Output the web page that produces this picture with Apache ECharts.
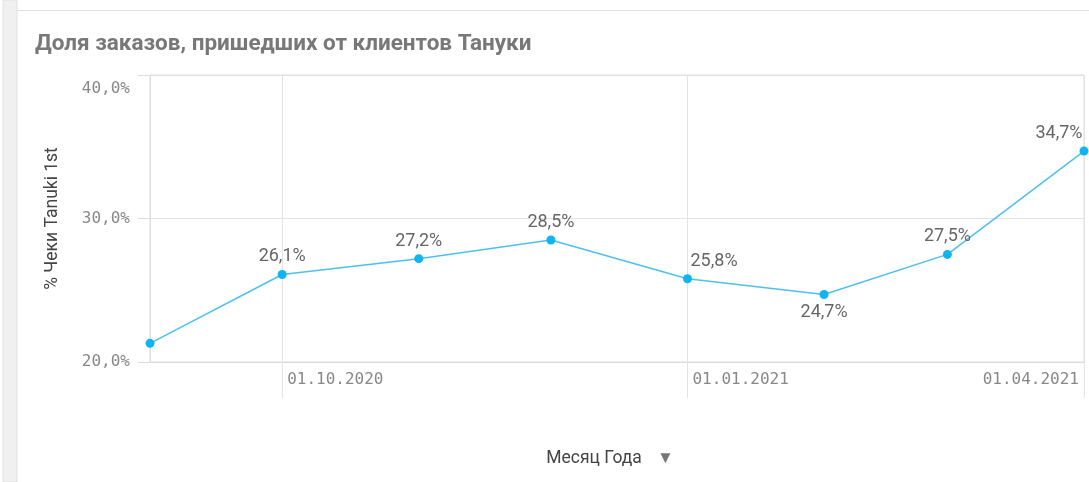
<!DOCTYPE html>
<html lang="ru">
<head>
    <meta charset="UTF-8">
    <title>Доля заказов, пришедших от клиентов Тануки</title>
    <script src="https://cdn.jsdelivr.net/npm/echarts@6/dist/echarts.min.js"></script>
    <style>
        html, body { margin: 0; padding: 0; background: #fff; }
        #chart { width: 1089px; height: 482px; }
    </style>
</head>
<body>
    <div id="chart"></div>
    <script>
        // данные
        const months = ['2020-09-01', '2020-10-01', '2020-11-01', '2020-12-01', '2021-01-01', '2021-02-01', '2021-03-01', '2021-04-01'];
        const shares = [21.3, 26.1, 27.2, 28.5, 25.8, 24.7, 27.5, 34.7];
        const xTicks = ['2020-10-01', '2021-01-01', '2021-04-01'];
        const yTicks = [20, 30, 40];

        const ts = s => new Date(s + 'T00:00:00').getTime();
        const pad = n => (n < 10 ? '0' : '') + n;
        const fmtDate = v => {
            const d = new Date(v);
            return pad(d.getDate()) + '.' + pad(d.getMonth() + 1) + '.' + d.getFullYear();
        };
        const fmtPct = v => v.toFixed(1).replace('.', ',') + '%';

        // подписи: у локального минимума — снизу, после спада — вправо, у последней точки — влево
        const points = months.map((m, i) => {
            const prev = shares[i - 1], next = shares[i + 1];
            const isMin = prev !== undefined && next !== undefined && shares[i] < prev && shares[i] < next;
            const item = { value: [ts(m), shares[i]] };
            if (i === 0) {
                item.label = { show: false };
            } else if (isMin) {
                item.label = { position: 'bottom' };
            } else if (i === months.length - 1) {
                item.label = { offset: [-25, 0] };
            } else if (prev > shares[i]) {
                item.label = { align: 'left', offset: [3, 0] };
            }
            return item;
        });

        const chart = echarts.init(document.getElementById('chart'));
        const option = {
            animation: false,
            title: {
                text: 'Доля заказов, пришедших от клиентов Тануки',
                left: 30,
                top: 28,
                textStyle: { fontFamily: 'Roboto', fontSize: 22.5, fontWeight: 'bold', color: '#787878' }
            },
            graphic: [
                { type: 'rect', shape: { x: 3, y: 0, width: 14, height: 482 }, style: { fill: '#f0f0f0', stroke: '#e2e2e2', lineWidth: 1 } },
                { type: 'line', shape: { x1: 17, y1: 10.5, x2: 1089, y2: 10.5 }, style: { stroke: '#e0e0e0', lineWidth: 1 } }
            ],
            grid: {
                left: 150,
                right: 5,
                top: 75,
                bottom: 120,
                show: true,
                borderColor: '#dcdcdc',
                borderWidth: 1
            },
            xAxis: {
                type: 'value',
                min: ts(months[0]),
                max: ts(months[months.length - 1]),
                name: 'Месяц Года{tri|▼}',
                nameLocation: 'middle',
                nameGap: 88,
                nameTextStyle: {
                    fontFamily: 'Roboto', fontSize: 17.5, color: '#444',
                    rich: { tri: { fontSize: 17, color: '#777', padding: [0, 14, 0, 15] } }
                },
                axisLine: { lineStyle: { color: '#dcdcdc' } },
                axisTick: {
                    show: true,
                    length: 36,
                    customValues: xTicks.map(ts),
                    lineStyle: { color: '#e3e3e3' }
                },
                axisLabel: {
                    customValues: xTicks.map(ts),
                    formatter: v => fmtDate(v),
                    align: 'left',
                    alignMaxLabel: 'right',
                    padding: [0, 5, 0, 5],
                    margin: 10,
                    fontFamily: 'DejaVu Sans Mono',
                    fontSize: 16,
                    color: '#888'
                },
                splitLine: { show: true, lineStyle: { color: '#e3e3e3' } }
            },
            yAxis: {
                type: 'value',
                min: yTicks[0],
                max: yTicks[yTicks.length - 1],
                interval: 10,
                name: '% Чеки Tanuki 1st',
                nameLocation: 'middle',
                nameGap: 88,
                nameTextStyle: { fontFamily: 'Roboto', fontSize: 17.5, color: '#444' },
                axisLine: { show: true, lineStyle: { color: '#dcdcdc' } },
                axisTick: { show: true, length: 12, lineStyle: { color: '#dcdcdc' } },
                axisLabel: {
                    formatter: v => fmtPct(v),
                    margin: 20,
                    padding: [6, 0, 0, 0],
                    verticalAlignMaxLabel: 'top',
                    fontFamily: 'DejaVu Sans Mono',
                    fontSize: 16,
                    color: '#888'
                },
                splitLine: { show: true, lineStyle: { color: '#e3e3e3' } }
            },
            series: [{
                type: 'line',
                data: points,
                clip: false,
                symbol: 'circle',
                symbolSize: 9,
                itemStyle: { color: '#0fb4f2' },
                lineStyle: { color: '#4cc0f0', width: 1.5 },
                label: {
                    show: true,
                    position: 'top',
                    distance: 4,
                    formatter: p => fmtPct(p.value[1]),
                    fontFamily: 'Roboto',
                    fontSize: 18,
                    color: '#666'
                }
            }]
        };
        chart.setOption(option);
    </script>
</body>
</html>
